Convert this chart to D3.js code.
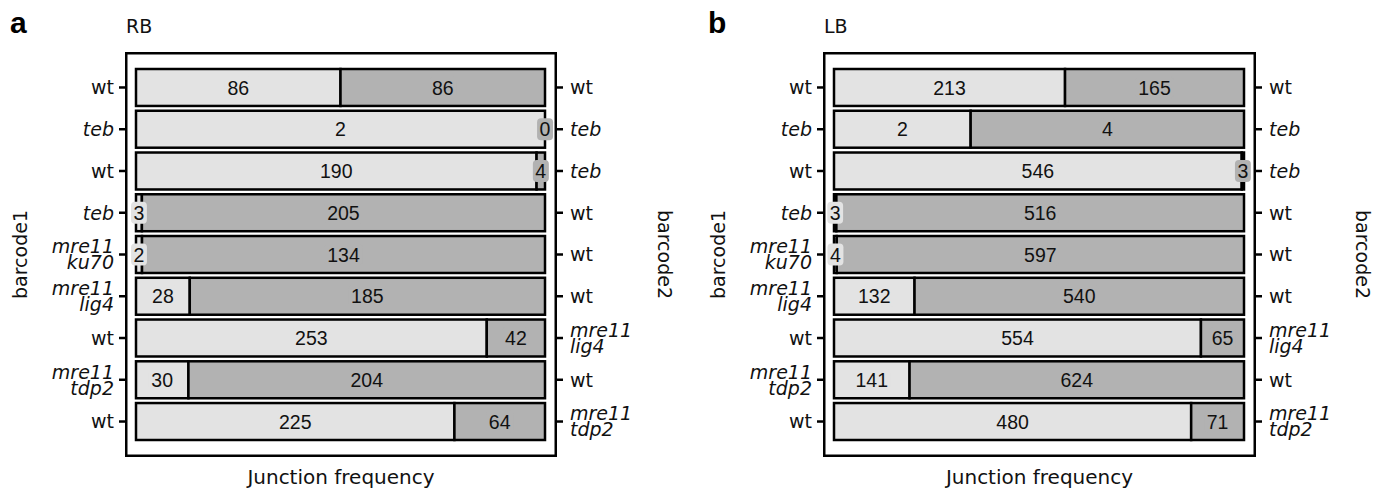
<!DOCTYPE html>
<html>
<head>
<meta charset="utf-8">
<script src="https://cdn.jsdelivr.net/npm/d3@7"></script>
<style>
  body { margin: 0; background: #fff; }
</style>
</head>
<body>
<div id="chart"></div>
<script>
// Etiquetas de las filas (barcode1 a la izquierda, barcode2 a la derecha)
const barcode1Labels = [['wt'], ['teb'], ['wt'], ['teb'], ['mre11', 'ku70'], ['mre11', 'lig4'], ['wt'], ['mre11', 'tdp2'], ['wt']];
const barcode2Labels = [['wt'], ['teb'], ['teb'], ['wt'], ['wt'], ['wt'], ['mre11', 'lig4'], ['wt'], ['mre11', 'tdp2']];

// Frecuencias de union, panel a (RB)
const rbBarcode1 = [86, 2, 190, 3, 2, 28, 253, 30, 225];
const rbBarcode2 = [86, 0, 4, 205, 134, 185, 42, 204, 64];

// Frecuencias de union, panel b (LB)
const lbBarcode1 = [213, 2, 546, 3, 4, 132, 554, 141, 480];
const lbBarcode2 = [165, 4, 3, 516, 597, 540, 65, 624, 71];

const panelLetters = ['a', 'b'];
const panelTitles = ['RB', 'LB'];

const w = 1373;
const h = 490;
const colLight = '#e3e3e3';
const colDark = '#b2b2b2';
const ink = '#111';

const svg = d3.select('#chart')
  .append('svg')
  .attr('width', w)
  .attr('height', h);

const paneles = [
  { fx0: 125, fx1: 557, v1: rbBarcode1, v2: rbBarcode2 },
  { fx0: 823, fx1: 1256, v1: lbBarcode1, v2: lbBarcode2 }
];

// Marco vertical comun
const frameTop = 52;
const frameBottom = 457;

const yScale = d3.scaleBand()
  .domain(d3.range(barcode1Labels.length))
  .range([66.6, 442.4])
  .paddingInner(0.115)
  .paddingOuter(0.0575);

function multiLineTick(sel, labels, anchor) {
  const fs = 19;
  const lh = 16;
  sel.selectAll('text').remove();
  sel.each(function (d) {
    const lines = labels[d];
    const t = d3.select(this).append('text')
      .attr('fill', ink)
      .attr('text-anchor', anchor)
      .attr('x', anchor === 'end' ? -11 : 13)
      .style('font-family', 'DejaVu Sans')
      .style('font-size', fs + 'px')
      .style('font-style', lines[0] === 'wt' ? 'normal' : 'italic');
    lines.forEach(function (l, i) {
      t.append('tspan')
        .attr('x', anchor === 'end' ? -11 : 13)
        .attr('y', (i - (lines.length - 1) / 2) * lh + 0.36 * fs)
        .text(l);
    });
  });
}

paneles.forEach(function (p, k) {
  const xScale = d3.scaleLinear()
    .domain([0, 1])
    .range([p.fx0 + 11, p.fx1 - 12]);

  const g = svg.append('g');

  // Marco del panel
  g.append('rect')
    .attr('x', p.fx0 + 1.25)
    .attr('y', frameTop + 1.25)
    .attr('width', p.fx1 - p.fx0 - 2.5)
    .attr('height', frameBottom - frameTop - 2.5)
    .attr('fill', 'white')
    .attr('stroke', 'black')
    .attr('stroke-width', 2.5);

  const filas = p.v1.map(function (a, i) {
    const b = p.v2[i];
    const tot = a + b;
    return { i: i, a: a, b: b, fa: a / tot };
  });

  // Segmentos de barcode1 (claro)
  g.selectAll('rect.seg1')
    .data(filas)
    .enter()
    .append('rect')
    .attr('x', xScale(0))
    .attr('y', (d) => yScale(d.i))
    .attr('width', (d) => xScale(d.fa) - xScale(0))
    .attr('height', yScale.bandwidth())
    .attr('fill', colLight)
    .attr('stroke', 'black')
    .attr('stroke-width', 2.5);

  // Segmentos de barcode2 (oscuro)
  g.selectAll('rect.seg2')
    .data(filas)
    .enter()
    .append('rect')
    .attr('x', (d) => xScale(d.fa))
    .attr('y', (d) => yScale(d.i))
    .attr('width', (d) => xScale(1) - xScale(d.fa))
    .attr('height', yScale.bandwidth())
    .attr('fill', colDark)
    .attr('stroke', 'black')
    .attr('stroke-width', 2.5);

  // Etiquetas con caja (tipo geom_label)
  const etiquetas = [];
  filas.forEach(function (d) {
    etiquetas.push({ i: d.i, v: d.a, x: xScale(d.fa / 2), fill: colLight });
    etiquetas.push({ i: d.i, v: d.b, x: xScale(d.fa + (1 - d.fa) / 2), fill: colDark });
  });

  const lab = g.selectAll('g.lab')
    .data(etiquetas)
    .enter()
    .append('g')
    .attr('transform', (d) => 'translate(' + d.x + ',' + (yScale(d.i) + yScale.bandwidth() / 2) + ')');

  lab.append('text')
    .attr('text-anchor', 'middle')
    .attr('y', 19.5 * 0.36)
    .attr('fill', ink)
    .style('font-family', 'Liberation Sans, Arial, sans-serif')
    .style('font-size', '19.5px')
    .text((d) => d.v);

  lab.each(function () {
    const gg = d3.select(this);
    const bb = gg.select('text').node().getBBox();
    gg.insert('rect', 'text')
      .attr('x', bb.x - 2.5)
      .attr('y', -11)
      .attr('width', bb.width + 5)
      .attr('height', 22)
      .attr('rx', 4)
      .attr('fill', gg.datum().fill);
  });

  // Eje izquierdo (barcode1)
  const axL = g.append('g')
    .attr('transform', 'translate(' + p.fx0 + ',0)')
    .call(d3.axisLeft(yScale).tickSize(6).tickSizeOuter(0));
  axL.select('.domain').remove();
  axL.selectAll('.tick line').attr('stroke', 'black').attr('stroke-width', 2.5);
  multiLineTick(axL.selectAll('.tick'), barcode1Labels, 'end');

  // Eje derecho (barcode2)
  const axR = g.append('g')
    .attr('transform', 'translate(' + p.fx1 + ',0)')
    .call(d3.axisRight(yScale).tickSize(6).tickSizeOuter(0));
  axR.select('.domain').remove();
  axR.selectAll('.tick line').attr('stroke', 'black').attr('stroke-width', 2.5);
  multiLineTick(axR.selectAll('.tick'), barcode2Labels, 'start');

  // Titulos de ejes
  const midY = (frameTop + frameBottom) / 2;
  g.append('text')
    .attr('transform', 'translate(' + (p.fx0 - 98) + ',' + midY + ')rotate(-90)')
    .attr('text-anchor', 'middle')
    .attr('fill', ink)
    .style('font-family', 'DejaVu Sans')
    .style('font-size', '19px')
    .text('barcode1');

  g.append('text')
    .attr('transform', 'translate(' + (p.fx0 + 533) + ',' + midY + ')rotate(90)')
    .attr('text-anchor', 'middle')
    .attr('fill', ink)
    .style('font-family', 'DejaVu Sans')
    .style('font-size', '19px')
    .text('barcode2');

  g.append('text')
    .attr('x', (p.fx0 + p.fx1) / 2)
    .attr('y', 484)
    .attr('text-anchor', 'middle')
    .attr('fill', ink)
    .style('font-family', 'DejaVu Sans')
    .style('font-size', '20px')
    .text('Junction frequency');

  // Letra del panel y subtitulo
  g.append('text')
    .attr('x', p.fx0 - 115)
    .attr('y', 33)
    .attr('fill', 'black')
    .style('font-family', 'Liberation Sans, Arial, sans-serif')
    .style('font-weight', 'bold')
    .style('font-size', '30px')
    .text(panelLetters[k]);

  g.append('text')
    .attr('x', p.fx0 + 1)
    .attr('y', 33)
    .attr('fill', ink)
    .style('font-family', 'DejaVu Sans')
    .style('font-size', '19px')
    .text(panelTitles[k]);
});
</script>
</body>
</html>
